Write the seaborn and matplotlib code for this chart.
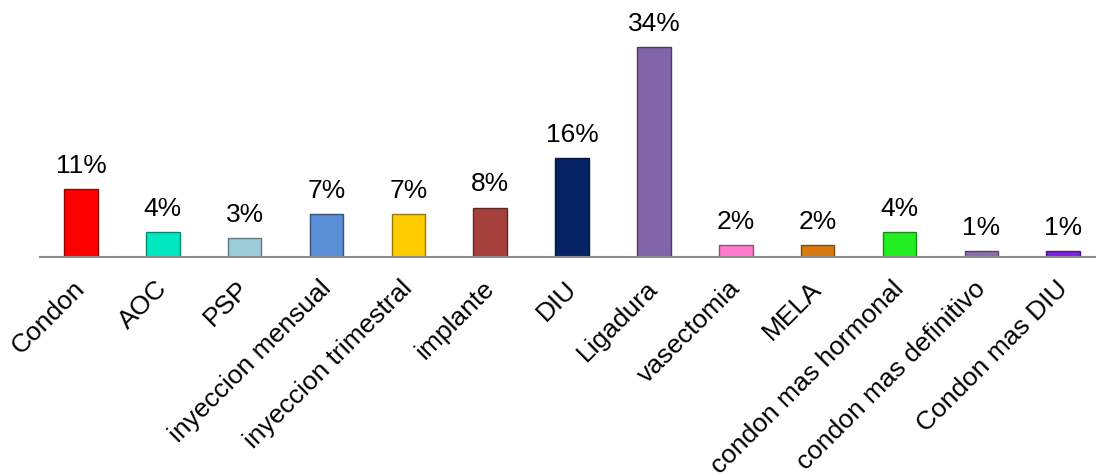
import matplotlib
matplotlib.use("Agg")
import matplotlib.pyplot as plt
import matplotlib.transforms as mtransforms
import seaborn as sns
import pandas as pd
import matplotlib.colors as mcolors

categories = ["Condon", "AOC", "PSP", "inyeccion mensual", "inyeccion trimestral",
              "implante", "DIU", "Ligadura", "vasectomia", "MELA",
              "condon mas hormonal", "condon mas definitivo", "Condon mas DIU"]
values = [11, 4, 3, 7, 7, 8, 16, 34, 2, 2, 4, 1, 1]
value_labels = ["11%", "4%", "3%", "7%", "7%", "8%", "16%", "34%", "2%", "2%", "4%", "1%", "1%"]
colors = ["#FF0000", "#00E8C0", "#9CCCD8", "#5A8ED6", "#FFCC00", "#A5403C",
          "#062464", "#8264A8", "#FF7ACC", "#D87A10", "#22EE22", "#8A70B0", "#8020E0"]

sns.set_theme(style="white")
plt.rcParams['font.family'] = ['Liberation Sans', 'DejaVu Sans']

df = pd.DataFrame({"cat": categories, "val": values})

fig = plt.figure(figsize=(10.96, 4.76), dpi=100)
ax = fig.add_axes([40/1096, 219/476, 1056/1096, 257/476])

sns.barplot(data=df, x="cat", y="val", hue="cat", palette=colors, legend=False,
            width=0.41, ax=ax, saturation=1)

for patch, c in zip(ax.patches, colors):
    rgb = mcolors.to_rgb(c)
    dark = tuple(v * 0.6 for v in rgb)
    patch.set_edgecolor(dark)
    patch.set_linewidth(1.0)

for patch, lab in zip(ax.patches, value_labels):
    ax.annotate(lab, (patch.get_x() + patch.get_width() / 2, patch.get_height()),
                xytext=(0, 8), textcoords="offset points", ha="center", va="bottom",
                fontsize=19, color="black")

ax.set_xlim(-0.5, 12.4)
ax.set_ylim(0, 41.6)
ax.set_xlabel("")
ax.set_ylabel("")
ax.set_yticks([])
ax.set_xticks(range(len(categories)))
ax.set_xticklabels(categories, rotation=45, ha="right", rotation_mode="anchor",
                   fontsize=19, color="black")
ax.tick_params(axis="x", length=0, pad=14)
offset = mtransforms.ScaledTransform = mtransforms.ScaledTranslation(-8/100, 0, fig.dpi_scale_trans)
for t in ax.get_xticklabels():
    t.set_transform(t.get_transform() + offset)
for s in ["top", "right", "left"]:
    ax.spines[s].set_visible(False)
ax.spines["bottom"].set_color("#8C8C8C")
ax.spines["bottom"].set_linewidth(1.5)
ax.patch.set_alpha(0)

fig.savefig("out.png", dpi=100)
